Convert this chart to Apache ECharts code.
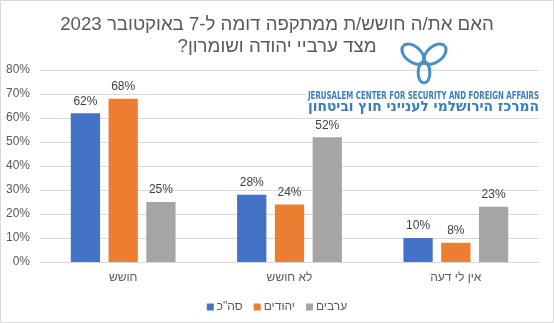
<!DOCTYPE html>
<html><head><meta charset="utf-8">
<script src="https://cdn.jsdelivr.net/npm/echarts@6/dist/echarts.min.js"></script>
<style>html,body{margin:0;padding:0;background:#fff}#c{width:554px;height:323px}</style>
</head><body><div id="c"></div>
<script>
const categories = ['חושש', 'לא חושש', 'אין לי דעה'];
const seriesNames = ['סה"כ', 'יהודים', 'ערבים'];
const totalValues = [62, 28, 10];
const jewsValues = [68, 24, 8];
const arabsValues = [25, 52, 23];
const titleLines = ['האם את/ה חושש/ת ממתקפה דומה ל-7 באוקטובר 2023', 'מצד ערביי יהודה ושומרון?\u200F'];
const yTicks = [0, 10, 20, 30, 40, 50, 60, 70, 80];
const colors = ['#4472C4', '#ED7D31', '#A5A5A5'];

const FONT = '"Liberation Sans", Arial, sans-serif';
const logoColor = '#4A8FC3';
const logoText = '#3B7DB6';

function measure(text, font) {
  const c = document.createElement('canvas').getContext('2d');
  c.font = font;
  return c.measureText(text).width;
}
const enText = 'JERUSALEM CENTER FOR SECURITY AND FOREIGN AFFAIRS';
const heText = 'המרכז הירושלמי לענייני חוץ וביטחון';
const enFont = 'bold 10px "DejaVu Sans Condensed", "DejaVu Sans", sans-serif';
const heFont = 'bold 14px "DejaVu Sans Condensed", "DejaVu Sans", sans-serif';
const logoW = 231;
const enScale = logoW / measure(enText, enFont);
const heScale = logoW / measure(heText, heFont);

function leaf(px, py, qx, qy, w) {
  const dx = qx - px, dy = qy - py;
  const len = Math.hypot(dx, dy);
  const nx = -dy / len * w, ny = dx / len * w;
  const out = [];
  [1, -1].forEach(s => {
    out.push({
      type: 'bezierCurve', z: 20,
      shape: {
        x1: px, y1: py, x2: qx, y2: qy,
        cpx1: px + dx * 0.15 + nx * s * 1.3, cpy1: py + dy * 0.15 + ny * s * 1.3,
        cpx2: px + dx * 0.95 + nx * s * 1.3, cpy2: py + dy * 0.95 + ny * s * 1.3
      },
      style: { stroke: logoColor, lineWidth: 3, fill: null }
    });
  });
  return out;
}

const graphics = [
  { type: 'rect', z: 1, shape: { x: 0.5, y: 0.5, width: 553, height: 322 }, style: { stroke: '#D9D9D9', fill: null, lineWidth: 1 } },
  { type: 'rect', z: 15, shape: { x: 306, y: 88, width: 236, height: 26 }, style: { fill: '#fff' } },
  ...leaf(424, 63, 403, 46, 8),
  ...leaf(424, 63, 445, 46, 8),
  ...leaf(424, 61, 424, 83, 6),
  { type: 'text', z: 20, x: 539, y: 96.5, scaleX: enScale,
    style: { text: enText, font: enFont, fill: logoText, align: 'right', verticalAlign: 'middle' } },
  { type: 'text', z: 20, x: 539, y: 107.5, scaleX: heScale,
    style: { text: heText, font: heFont, fill: logoText, align: 'right', verticalAlign: 'middle' } }
];

const chart = echarts.init(document.getElementById('c'), null, { renderer: 'canvas' });
const mk = (name, data, i) => ({
  name, type: 'bar', data, barGap: '29%', barCategoryGap: '37%',
  itemStyle: { color: colors[i] },
  label: { show: true, position: 'top', distance: 6, formatter: '{c}%', color: '#404040', fontSize: 12, fontFamily: FONT }
});
chart.setOption({
  animation: false,
  textStyle: { fontFamily: FONT },
  title: {
    text: titleLines.join('\n'), left: 'center', top: 9,
    textStyle: { fontSize: 18.67, fontWeight: 'normal', color: '#595959', lineHeight: 22, fontFamily: FONT }
  },
  grid: { left: 40, right: 15, top: 70, bottom: 61, containLabel: false },
  legend: {
    data: seriesNames, top: 296, left: 'center', itemWidth: 7, itemHeight: 7, itemGap: 11,
    icon: 'rect', textStyle: { fontSize: 12, color: '#595959', fontFamily: FONT, padding: [0, 0, 0, -2] }
  },
  xAxis: {
    type: 'category', data: categories,
    axisLine: { lineStyle: { color: '#D9D9D9' } }, axisTick: { show: false },
    axisLabel: { fontSize: 12, color: '#595959', margin: 10, fontFamily: FONT }
  },
  yAxis: {
    type: 'value', min: yTicks[0], max: yTicks[yTicks.length - 1], interval: 10,
    axisLine: { show: false }, axisTick: { show: false },
    splitLine: { lineStyle: { color: '#D9D9D9' } },
    axisLabel: { formatter: '{value}%', fontSize: 12, color: '#595959', margin: 10, fontFamily: FONT }
  },
  series: [mk(seriesNames[0], totalValues, 0), mk(seriesNames[1], jewsValues, 1), mk(seriesNames[2], arabsValues, 2)],
  graphic: graphics
});
</script></body></html>
